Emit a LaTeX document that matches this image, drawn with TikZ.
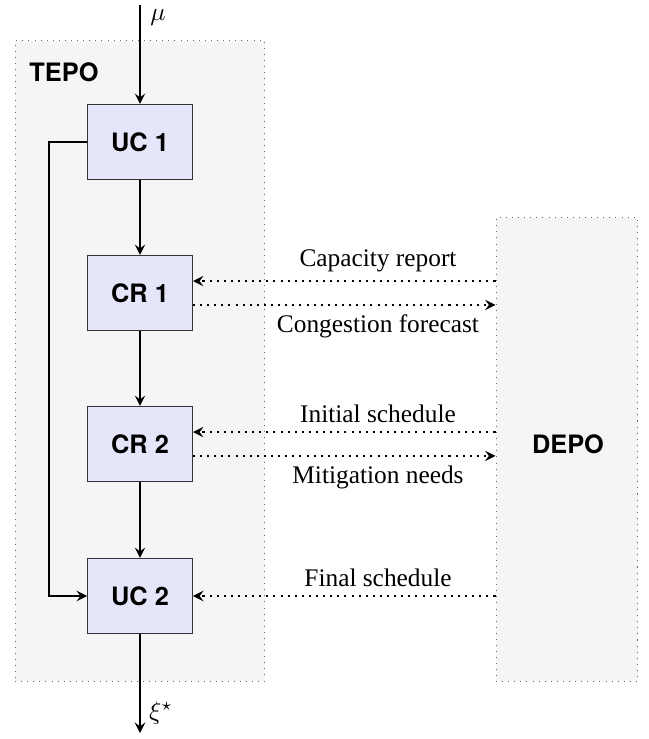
\documentclass[tikz,border=0pt]{standalone}
\usepackage{fontspec}
\setmainfont{Liberation Serif}
\setsansfont{TeX Gyre Heros}
\usetikzlibrary{arrows,calc}
\definecolor{boxfill}{RGB}{230,230,250}
\definecolor{panelfill}{RGB}{245,245,245}
\tikzset{
  blockbox/.style={draw=black!80, fill=boxfill, line width=0.4pt, minimum width=41.4pt, minimum height=29.6pt, font=\sffamily\bfseries, inner sep=0pt},
  panel/.style={draw=black!60, dotted, fill=panelfill, line width=0.4pt},
  flow/.style={-stealth, line width=0.8pt},
  msg/.style={-stealth, dotted, line width=0.8pt},
  msglabel/.style={font=\normalsize, inner sep=0pt},
}
\begin{document}
\begin{tikzpicture}[x=0.3945pt, y=-0.3945pt]
\useasboundingbox (0,0) rectangle (649,739);
\node[panel, minimum width=98.6pt, minimum height=252.5pt, inner sep=0pt] (tepo) at (140,361) {};
\node[panel, minimum width=56pt, minimum height=182.7pt, inner sep=0pt] (depo) at (567,449.5) {};
\node[font=\sffamily\bfseries, inner sep=0pt] (tepolabel) at (64,72) {TEPO};
\node[font=\sffamily\bfseries, inner sep=0pt] (depolabel) at (568,444) {DEPO};
\node[blockbox] (uc1) at (140,142) {UC 1};
\node[blockbox] (cr1) at (140,293) {CR 1};
\node[blockbox] (cr2) at (140,444) {CR 2};
\node[blockbox] (uc2) at (140,596) {UC 2};
\coordinate (in) at (140,5);
\coordinate (out) at (140,733);
\node[inner sep=0pt] (mu) at (158,17) {$\mu$};
\node[inner sep=0pt] (xi) at (161,713) {$\xi^{\star}$};
\draw[flow] (in) -- (uc1);
\draw[flow] (uc1) -- (cr1);
\draw[flow] (cr1) -- (cr2);
\draw[flow] (cr2) -- (uc2);
\draw[flow] (uc2) -- (out);
\coordinate (fb) at (49,142);
\draw[flow] (uc1.west) -- (fb) |- (uc2.west);
% messages
\draw[msg] ([yshift=4.7pt]cr1.east -| depo.west) -- ([yshift=4.7pt]cr1.east);
\draw[msg] ([yshift=-4.7pt]cr1.east) -- ([yshift=-4.7pt]cr1.east -| depo.west);
\draw[msg] ([yshift=4.7pt]cr2.east -| depo.west) -- ([yshift=4.7pt]cr2.east);
\draw[msg] ([yshift=-4.7pt]cr2.east) -- ([yshift=-4.7pt]cr2.east -| depo.west);
\draw[msg] (uc2.east -| depo.west) -- (uc2.east);
\node[msglabel] (l1) at (378,261) {Capacity report};
\node[msglabel] (l2) at (378,326) {Congestion forecast};
\node[msglabel] (l3) at (378,414) {Initial schedule};
\node[msglabel] (l4) at (378,477) {Mitigation needs};
\node[msglabel] (l5) at (378,578) {Final schedule};
\end{tikzpicture}
\end{document}
